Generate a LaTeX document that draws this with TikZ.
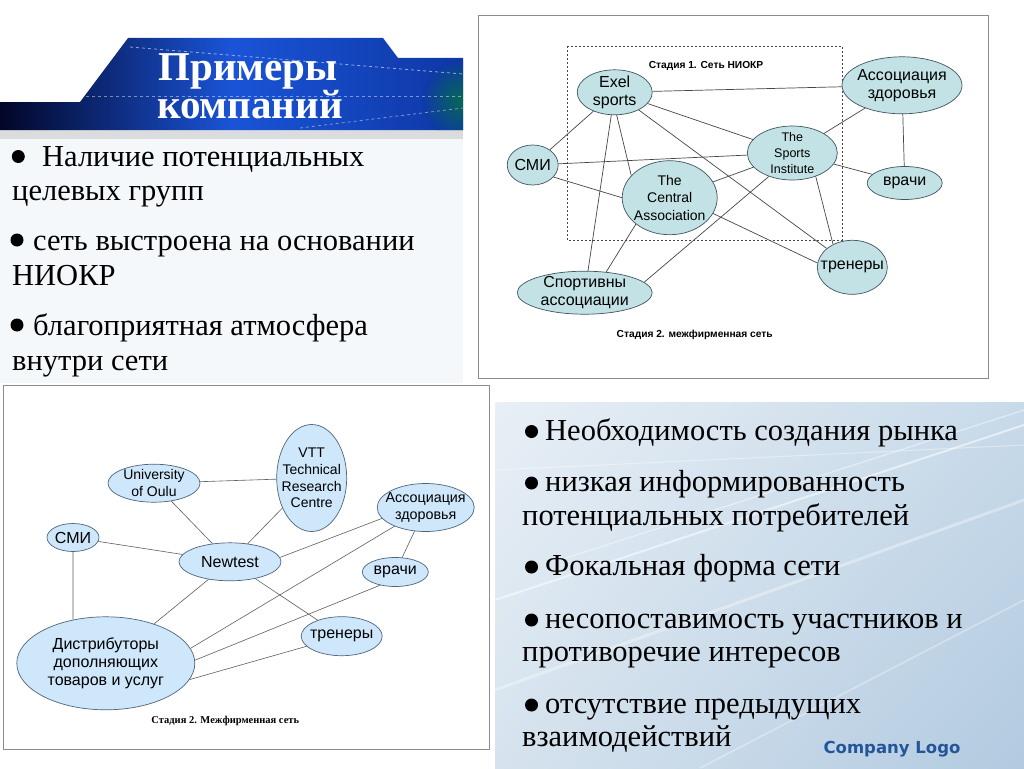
\documentclass[tikz,border=0pt]{standalone}
\usepackage{fontspec}
\setmainfont{Liberation Serif}
\newfontfamily\arialfont{Liberation Sans}
\newfontfamily\logofont{DejaVu Sans}
\usepackage{tikz}
\usetikzlibrary{shapes.geometric,shadings,positioning}
\definecolor{tealfill}{RGB}{194,226,229}
\definecolor{tealline}{RGB}{65,85,95}
\definecolor{bluefill}{RGB}{206,231,250}
\definecolor{blueline}{RGB}{80,100,125}
\definecolor{edgedark}{RGB}{70,70,70}
\definecolor{edgegray}{RGB}{95,95,95}
\definecolor{panelgray}{RGB}{140,140,140}
\definecolor{logoblue}{RGB}{35,85,155}
\definecolor{bannerdark}{RGB}{2,6,40}
\definecolor{bannermid}{RGB}{26,84,215}
\definecolor{bannerright}{RGB}{14,55,165}
\definecolor{bandgray}{RGB}{218,220,222}
\definecolor{textpanel}{RGB}{245,248,251}
\definecolor{skyul}{RGB}{232,239,246}
\definecolor{skyur}{RGB}{200,218,233}
\definecolor{skyll}{RGB}{214,227,238}
\definecolor{skylr}{RGB}{178,202,224}
\tikzset
{
    firmnode/.style  = {ellipse, draw=tealline, fill=tealfill, line width=0.7pt, align=center, inner sep=-8pt, font=\arialfont\fontsize{16}{18}\selectfont},
    partnode/.style  = {ellipse, draw=blueline, fill=bluefill, line width=0.7pt, align=center, inner sep=-8pt, font=\arialfont\fontsize{16}{18.3}\selectfont},
    bodytext/.style  = {anchor=base west, inner sep=0pt, font=\fontsize{30.5}{34}\selectfont},
    stagetext/.style = {inner sep=0pt, font=\arialfont\bfseries\fontsize{10.2}{12}\selectfont},
    link/.style      = {draw=edgedark, line width=0.7pt},
    thinlink/.style  = {draw=edgegray, line width=0.6pt}
}
\begin{document}
\begin{tikzpicture}[x=1pt, y=-1pt]
    \useasboundingbox (0,0) rectangle (1024,768);
    \fill[white] (0,0) rectangle (1024,768);

    % header banner and text panel
    \fill[textpanel] (0,138) rectangle (463,383);
    \fill[bandgray] (0,130) rectangle (463,139);
    \shade[left color=bannerdark, right color=bannerright, middle color=bannermid]
        (0,102) -- (80,102) -- (128,38) -- (383,38) -- (398,58) -- (463,58) -- (463,130) -- (0,130) -- cycle;
    \begin{scope}
        \clip (0,102) -- (80,102) -- (128,38) -- (383,38) -- (398,58) -- (463,58) -- (463,130) -- (0,130) -- cycle;
        \shade[inner color=green!60!black, outer color=bannerright, opacity=0.5] (462,100) circle (40);
        \draw[white, dashed, opacity=0.55, line width=0.8pt] (130,47) -- (463,74);
        \draw[white, dashed, opacity=0.45, line width=0.8pt] (80,96) -- (463,96);
        \draw[white, dashed, opacity=0.45, line width=0.8pt] (300,128) -- (463,108);
    \end{scope}
    \node[white, font=\bfseries\fontsize{41}{38}\selectfont, anchor=base, inner sep=0pt] (title1) at (248,80) {Примеры};
    \node[white, font=\bfseries\fontsize{41}{38}\selectfont, anchor=base, inner sep=0pt] (title2) at (250,118) {компаний};

    \fill (18.3,156.5) circle (6.5);
    \fill (17,240) circle (6.5);
    \fill (17,325) circle (6.5);
    \node[bodytext] (lt1) at (42,166) {Наличие потенциальных};
    \node[bodytext] (lt2) at (12,200) {целевых групп};
    \node[bodytext] (lt3) at (33,250) {сеть выстроена на основании};
    \node[bodytext] (lt4) at (12,285) {НИОКР};
    \node[bodytext] (lt5) at (33,335) {благоприятная атмосфера};
    \node[bodytext] (lt6) at (12,370) {внутри сети};

    % right text panel
    \shade[upper left=skyul, upper right=skyur, lower left=skyll, lower right=skylr]
        (495,402) rectangle (1024,768);
    \begin{scope}
        \clip (495,402) rectangle (1024,768);
        \draw[white, opacity=0.55, line width=2pt] (495,600) -- (1024,425);
        \draw[white, opacity=0.45, line width=1.2pt] (560,560) -- (1024,410);
        \draw[white, opacity=0.35, line width=3pt] (495,690) -- (1024,500);
        \draw[white, opacity=0.4, line width=1pt] (495,470) -- (1024,445);
        \draw[white, opacity=0.35, line width=1.5pt] (700,768) -- (1024,600);
    \end{scope}
    \foreach \yy in {431.5,483,567,620,705}
    {
        \fill (531.5,\yy) circle (6.5);
    }
    \node[bodytext] (rt1) at (545,440) {Необходимость создания рынка};
    \node[bodytext] (rt2) at (545,491.5) {низкая информированность};
    \node[bodytext] (rt3) at (522,525) {потенциальных потребителей};
    \node[bodytext] (rt4) at (545,575) {Фокальная форма сети};
    \node[bodytext] (rt5) at (545,628) {несопоставимость участников и};
    \node[bodytext] (rt6) at (522,661.5) {противоречие интересов};
    \node[bodytext] (rt7) at (545,713) {отсутствие предыдущих};
    \node[bodytext] (rt8) at (522,746.5) {взаимодействий};
    \node[logoblue, anchor=base, inner sep=0pt, font=\logofont\bfseries\fontsize{16.5}{20}\selectfont] (logo) at (892,753) {Company Logo};

    % stage 1 network
    \draw[panelgray, fill=white] (478,15) rectangle (988,378);
    \draw[edgedark, dashed, dash pattern=on 2pt off 2pt, line width=0.6pt] (567,46) rectangle (842,240);
    \node[stagetext] (stage1) at (706,66) {Стадия 1. Сеть НИОКР};
    \node[stagetext] (stage2) at (694.7,335) {Стадия 2. межфирменная сеть};
    \node[firmnode, minimum width=75pt, minimum height=45pt] (exel) at (614.7,92.3) {Exel\\sports};
    \node[firmnode, minimum width=120pt, minimum height=57pt] (health) at (902,85.3) {Ассоциация\\здоровья};
    \node[firmnode, minimum width=51pt, minimum height=40pt] (media) at (532.7,165) {СМИ};
    \node[firmnode, minimum width=90pt, minimum height=54pt, font=\arialfont\fontsize{12.5}{16}\selectfont] (institute) at (792.3,153) {The\\Sports\\Institute};
    \node[firmnode, minimum width=75pt, minimum height=33pt] (doctors) at (904.7,183) {врачи};
    \node[firmnode, minimum width=95pt, minimum height=74pt, font=\arialfont\fontsize{14}{17.5}\selectfont] (central) at (669.7,197.7) {The\\Central\\Association};
    \node[firmnode, minimum width=70pt, minimum height=54pt] (coaches) at (852.3,267.3) {тренеры};
    \node[firmnode, minimum width=135pt, minimum height=43pt] (sports) at (584.7,292.7) {Спортивны\\ассоциации};
    \draw[link] (exel) -- (health);
    \draw[link] (exel) -- (media);
    \draw[link] (exel) -- (institute);
    \draw[link] (exel.275) -- (central.150);
    \draw[link] (exel) -- (coaches);
    \draw[link] (exel) -- (sports);
    \draw[link] (media) -- (institute);
    \draw[link] (media.330) -- (central.west);
    \draw[link] (central.-20) -- (coaches.173);
    \draw[link] (central) -- (institute);
    \draw[link] (central.218) -- (sports.44);
    \draw[link] (institute) -- (health);
    \draw[link] (institute) -- (doctors);
    \draw[link] (institute.-45) -- (coaches.130);
    \draw[link] (institute.225) -- (sports.10);
    \draw[link] (health) -- (doctors);

    % stage 2 network
    \draw[panelgray, fill=white] (3,385) rectangle (489,749);
    \node[inner sep=0pt, font=\bfseries\fontsize{10.5}{12}\selectfont] (stage2b) at (225.3,720.7) {Стадия 2. Межфирменная сеть};
    \node[partnode, minimum width=92pt, minimum height=38pt, font=\arialfont\fontsize{14}{16.7}\selectfont] (oulu) at (154,483.2) {University\\of Oulu};
    \node[partnode, minimum width=70pt, minimum height=107pt, font=\arialfont\fontsize{14}{16.8}\selectfont] (vtt) at (311.7,478) {VTT\\Technical\\Research\\Centre};
    \node[partnode, minimum width=97pt, minimum height=48pt, font=\arialfont\fontsize{14.3}{16.7}\selectfont] (healthb) at (425.7,507.5) {Ассоциация\\здоровья};
    \node[partnode, minimum width=52pt, minimum height=28pt] (mediab) at (73,537.5) {СМИ};
    \node[partnode, minimum width=102pt, minimum height=38pt] (newtest) at (230,561.8) {Newtest};
    \node[partnode, minimum width=66pt, minimum height=29pt] (doctorsb) at (395.3,572) {врачи};
    \node[partnode, minimum width=81pt, minimum height=39pt] (coachesb) at (341.7,636.2) {тренеры};
    \node[partnode, minimum width=178pt, minimum height=93pt] (dealers) at (105.8,663.3) {Дистрибуторы\\дополняющих\\товаров и услуг};
    \draw[thinlink] (oulu) -- (vtt);
    \draw[thinlink] (oulu) -- (newtest);
    \draw[thinlink] (vtt) -- (newtest);
    \draw[thinlink] (mediab) -- (newtest);
    \draw[thinlink] (mediab.south) -- (dealers.127);
    \draw[thinlink] (newtest.5) -- (healthb.194);
    \draw[thinlink] (newtest) -- (coachesb);
    \draw[thinlink] (newtest) -- (dealers);
    \draw[thinlink] (healthb) -- (doctorsb);
    \draw[thinlink] (healthb.211) -- (dealers.10);
    \draw[thinlink] (doctorsb.221) -- (dealers.2);
    \draw[thinlink] (coachesb.196) -- (dealers.-11);
\end{tikzpicture}
\end{document}
